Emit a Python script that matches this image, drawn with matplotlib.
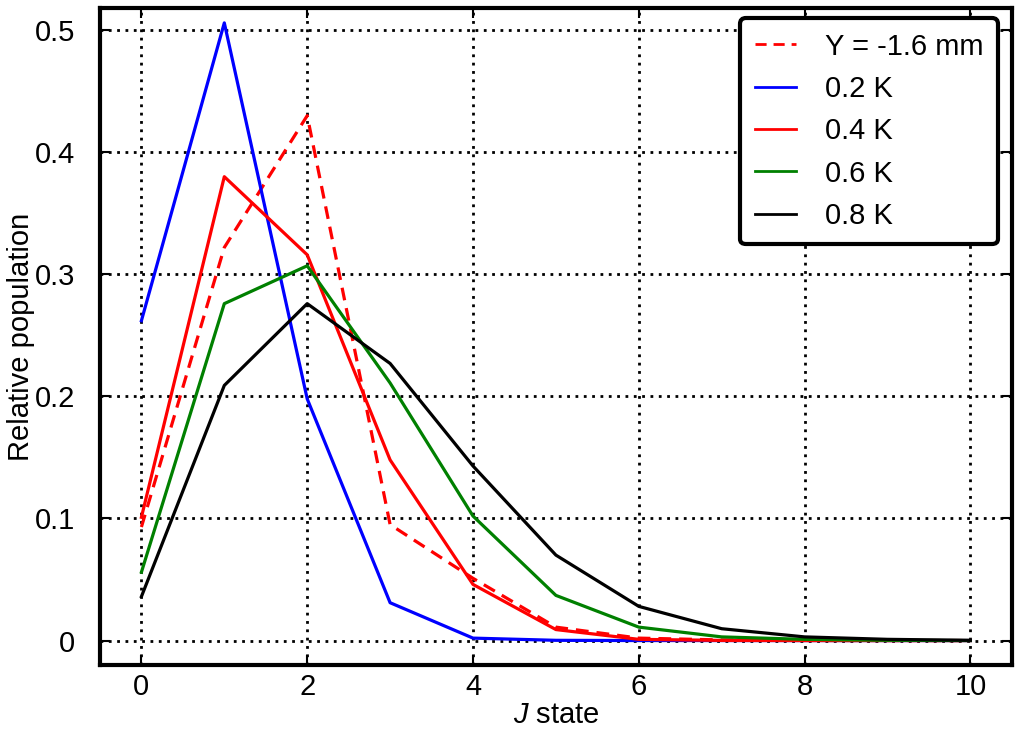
import matplotlib
matplotlib.use("Agg")
import matplotlib.pyplot as plt
from matplotlib.ticker import FuncFormatter, FixedLocator

plt.rcParams['font.family'] = ['Liberation Sans', 'DejaVu Sans']
plt.rcParams['mathtext.fontset'] = 'custom'
plt.rcParams['mathtext.it'] = 'Liberation Sans:italic'
plt.rcParams['mathtext.rm'] = 'Liberation Sans'

J = [0, 1, 2, 3, 4, 5, 6, 7, 8, 9, 10]
y_meas = [0.093, 0.322, 0.430, 0.095, 0.051, 0.011, 0.002, 0.0005, 0.0001, 0.0, 0.0]
t02 = [0.262, 0.506, 0.198, 0.031, 0.002, 0.0002, 0.0, 0.0, 0.0, 0.0, 0.0]
t04 = [0.101, 0.380, 0.316, 0.148, 0.046, 0.009, 0.001, 0.0001, 0.0, 0.0, 0.0]
t06 = [0.056, 0.276, 0.307, 0.211, 0.102, 0.037, 0.011, 0.003, 0.001, 0.0002, 0.0]
t08 = [0.036, 0.209, 0.276, 0.227, 0.143, 0.070, 0.028, 0.0097, 0.003, 0.001, 0.0002]
labels = ['Y = -1.6 mm', '0.2 K', '0.4 K', '0.6 K', '0.8 K']
xticks = [0, 2, 4, 6, 8, 10]
yticks = [0, 0.1, 0.2, 0.3, 0.4, 0.5]

fig = plt.figure(figsize=(10.2, 7.48), dpi=100)
ax = fig.add_axes([0.098, 0.111, 0.894, 0.878])

lw = 2.3
ax.plot(J, y_meas, color='red', lw=lw, linestyle=(0, (4, 2.5)), label=labels[0])
ax.plot(J, t02, color='blue', lw=lw, label=labels[1])
ax.plot(J, t04, color='red', lw=lw, label=labels[2])
ax.plot(J, t06, color='green', lw=lw, label=labels[3])
ax.plot(J, t08, color='black', lw=lw, label=labels[4])

ax.set_xlim(-0.5, 10.5)
ax.set_ylim(-0.02, 0.518)
ax.xaxis.set_major_locator(FixedLocator(xticks))
ax.yaxis.set_major_locator(FixedLocator(yticks))
ax.yaxis.set_major_formatter(FuncFormatter(lambda v, p: '0' if abs(v) < 1e-9 else f'{v:.1f}'))

ax.grid(True, color='black', linestyle=(0, (1, 2)), linewidth=2)
ax.set_axisbelow(True)
for s in ax.spines.values():
    s.set_linewidth(3)

fs = 21
ax.tick_params(direction='in', length=7, width=1.5, top=True, right=True,
               labelsize=fs, color='black')
ax.tick_params(axis='y', pad=18)
ax.tick_params(axis='x', pad=6)

ax.set_xlabel('$J$ state', fontsize=fs, labelpad=0)
ax.set_ylabel('Relative population', fontsize=fs, labelpad=0)

leg = ax.legend(loc='upper right', fontsize=fs, handlelength=1.4, handletextpad=1.0,
                labelspacing=0.49, borderpad=0.5, borderaxespad=0, fancybox=True,
                framealpha=1, bbox_to_anchor=(0.985, 0.985))
leg.get_frame().set_edgecolor('black')
leg.get_frame().set_linewidth(3)
for h in leg.get_lines():
    h.set_linewidth(2)

fig.savefig('out.png', dpi=100)
